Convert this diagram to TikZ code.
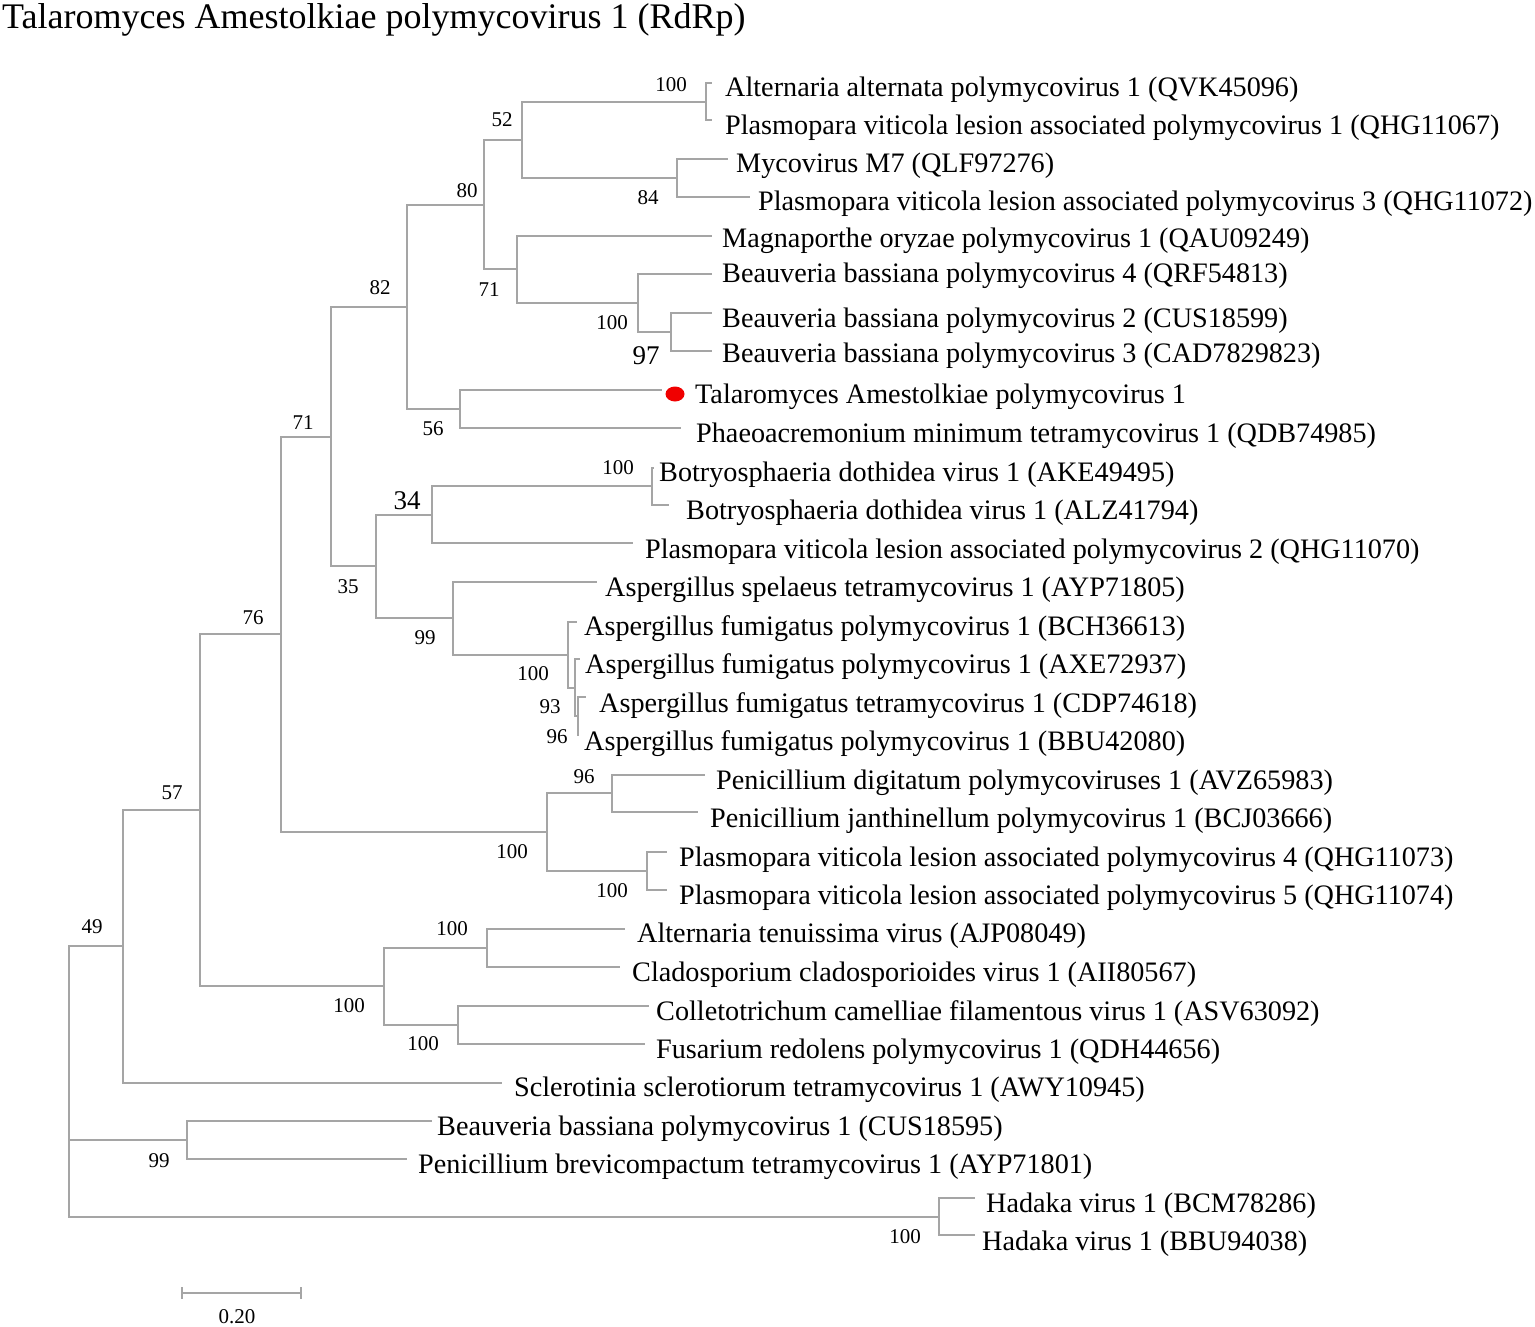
\documentclass[tikz,border=0pt]{standalone}
\usepackage{fontspec}
\setmainfont{Liberation Serif}
\usetikzlibrary{shapes.geometric}
\definecolor{brgray}{RGB}{165,165,165}
\definecolor{dotred}{RGB}{240,0,0}
\begin{document}
\begin{tikzpicture}[x=1pt,y=-1pt,
  branch/.style={draw=brgray,line width=1.6pt},
  leaflabel/.style={anchor=base west,inner sep=0pt,font=\fontsize{28.2}{32}\selectfont},
  bslabel/.style={anchor=center,inner sep=0pt,font=\fontsize{21}{24}\selectfont},
  bigbs/.style={anchor=center,inner sep=0pt,font=\fontsize{27}{30}\selectfont},
  titlestyle/.style={anchor=base west,inner sep=0pt,font=\fontsize{36}{40}\selectfont}]
\useasboundingbox (0,0) rectangle (1535,1327);

% title
\node[titlestyle] (title) at (2,29) {Talaromyces Amestolkiae polymycovirus 1 (RdRp)};

% internal nodes
\coordinate (nA) at (69,1081);
\coordinate (nB) at (123,946);
\coordinate (nC) at (200,810);
\coordinate (nD) at (281,634);
\coordinate (nE) at (331,437);
\coordinate (nF) at (407,307);
\coordinate (nG) at (484,205);
\coordinate (nH) at (522,140);
\coordinate (nI) at (706,102);
\coordinate (nJ) at (677,178);
\coordinate (nK) at (517,269);
\coordinate (nL) at (638,303);
\coordinate (nM) at (671,332);
\coordinate (nN) at (460,409);
\coordinate (nO) at (376,566);
\coordinate (nP) at (432,515);
\coordinate (nQ) at (652,486);
\coordinate (nR) at (453,618);
\coordinate (nS) at (568,655);
\coordinate (nT) at (575,688);
\coordinate (nU) at (578,716);
\coordinate (nV) at (547,832);
\coordinate (nW) at (612,793);
\coordinate (nX) at (647,871);
\coordinate (nY) at (384,986);
\coordinate (nZ) at (487,948);
\coordinate (nZZ) at (458,1025);
\coordinate (nBB) at (187,1140);
\coordinate (nHad) at (939,1217);

% leaf tips
\coordinate (l1) at (712,83);
\coordinate (l2) at (712,120);
\coordinate (l3) at (728,159);
\coordinate (l4) at (750,197);
\coordinate (l5) at (712,236);
\coordinate (l6) at (712,274);
\coordinate (l7) at (712,313);
\coordinate (l8) at (712,351);
\coordinate (l9) at (662,390);
\coordinate (l10) at (681,428);
\coordinate (l11) at (654,468);
\coordinate (l12) at (669,505);
\coordinate (l13) at (633,543);
\coordinate (l14) at (597,582);
\coordinate (l15) at (577,622);
\coordinate (l16) at (580,659);
\coordinate (l17) at (586,697);
\coordinate (l18) at (579,735);
\coordinate (l19) at (705,775);
\coordinate (l20) at (698,812);
\coordinate (l21) at (667,852);
\coordinate (l22) at (667,890);
\coordinate (l23) at (625,929);
\coordinate (l24) at (620,967);
\coordinate (l25) at (649,1006);
\coordinate (l26) at (645,1044);
\coordinate (l27) at (502,1083);
\coordinate (l28) at (432,1121);
\coordinate (l29) at (407,1159);
\coordinate (l30) at (975,1198);
\coordinate (l31) at (975,1235);

% branches
\foreach \p/\c in {nA/nB,nA/nBB,nA/nHad,nB/nC,nB/l27,nC/nD,nC/nY,nD/nE,nD/nV,
  nE/nF,nE/nO,nF/nG,nF/nN,nG/nH,nG/nK,nH/nI,nH/nJ,nI/l1,nI/l2,nJ/l3,nJ/l4,
  nK/l5,nK/nL,nL/l6,nL/nM,nM/l7,nM/l8,nN/l9,nN/l10,nO/nP,nO/nR,nP/nQ,nP/l13,
  nQ/l11,nQ/l12,nR/l14,nR/nS,nS/l15,nS/nT,nT/l16,nT/nU,nU/l17,nU/l18,
  nV/nW,nV/nX,nW/l19,nW/l20,nX/l21,nX/l22,nY/nZ,nY/nZZ,nZ/l23,nZ/l24,
  nZZ/l25,nZZ/l26,nBB/l28,nBB/l29,nHad/l30,nHad/l31}
  \draw[branch] (\p) |- (\c);

% red marker
\node[ellipse,fill=dotred,inner sep=0pt,minimum width=19pt,minimum height=15pt] (dot) at (675,394) {};

% leaf labels
\node[leaflabel] (t1) at (725,97) {Alternaria alternata polymycovirus 1 (QVK45096)};
\node[leaflabel] (t2) at (725,135) {Plasmopara viticola lesion associated polymycovirus 1 (QHG11067)};
\node[leaflabel] (t3) at (736,173) {Mycovirus M7 (QLF97276)};
\node[leaflabel] (t4) at (758,211) {Plasmopara viticola lesion associated polymycovirus 3 (QHG11072)};
\node[leaflabel] (t5) at (722,247) {Magnaporthe oryzae polymycovirus 1 (QAU09249)};
\node[leaflabel] (t6) at (722,282) {Beauveria bassiana polymycovirus 4 (QRF54813)};
\node[leaflabel] (t7) at (722,327) {Beauveria bassiana polymycovirus 2 (CUS18599)};
\node[leaflabel] (t8) at (722,362) {Beauveria bassiana polymycovirus 3 (CAD7829823)};
\node[leaflabel] (t9) at (695,403) {Talaromyces Amestolkiae polymycovirus 1};
\node[leaflabel] (t10) at (696,442) {Phaeoacremonium minimum tetramycovirus 1 (QDB74985)};
\node[leaflabel] (t11) at (659,481) {Botryosphaeria dothidea virus 1 (AKE49495)};
\node[leaflabel] (t12) at (686,519) {Botryosphaeria dothidea virus 1 (ALZ41794)};
\node[leaflabel] (t13) at (645,558) {Plasmopara viticola lesion associated polymycovirus 2 (QHG11070)};
\node[leaflabel] (t14) at (605,596) {Aspergillus spelaeus tetramycovirus 1 (AYP71805)};
\node[leaflabel] (t15) at (584,635) {Aspergillus fumigatus polymycovirus 1 (BCH36613)};
\node[leaflabel] (t16) at (585,673) {Aspergillus fumigatus polymycovirus 1 (AXE72937)};
\node[leaflabel] (t17) at (599,712) {Aspergillus fumigatus tetramycovirus 1 (CDP74618)};
\node[leaflabel] (t18) at (584,750) {Aspergillus fumigatus polymycovirus 1 (BBU42080)};
\node[leaflabel] (t19) at (716,789) {Penicillium digitatum polymycoviruses 1 (AVZ65983)};
\node[leaflabel] (t20) at (710,827) {Penicillium janthinellum polymycovirus 1 (BCJ03666)};
\node[leaflabel] (t21) at (679,866) {Plasmopara viticola lesion associated polymycovirus 4 (QHG11073)};
\node[leaflabel] (t22) at (679,904) {Plasmopara viticola lesion associated polymycovirus 5 (QHG11074)};
\node[leaflabel] (t23) at (637,942) {Alternaria tenuissima virus (AJP08049)};
\node[leaflabel] (t24) at (632,981) {Cladosporium cladosporioides virus 1 (AII80567)};
\node[leaflabel] (t25) at (656,1020) {Colletotrichum camelliae filamentous virus 1 (ASV63092)};
\node[leaflabel] (t26) at (656,1058) {Fusarium redolens polymycovirus 1 (QDH44656)};
\node[leaflabel] (t27) at (514,1096) {Sclerotinia sclerotiorum tetramycovirus 1 (AWY10945)};
\node[leaflabel] (t28) at (437,1135) {Beauveria bassiana polymycovirus 1 (CUS18595)};
\node[leaflabel] (t29) at (418,1173) {Penicillium brevicompactum tetramycovirus 1 (AYP71801)};
\node[leaflabel] (t30) at (986,1212) {Hadaka virus 1 (BCM78286)};
\node[leaflabel] (t31) at (982,1250) {Hadaka virus 1 (BBU94038)};

% bootstrap values
\node[bslabel] (b1) at (671,85) {100};
\node[bslabel] (b2) at (502,120) {52};
\node[bslabel] (b3) at (467,191) {80};
\node[bslabel] (b4) at (648,198) {84};
\node[bslabel] (b5) at (489,290) {71};
\node[bslabel] (b6) at (612,323) {100};
\node[bigbs] (b7) at (646,356) {97};
\node[bslabel] (b8) at (380,288) {82};
\node[bslabel] (b9) at (303,423) {71};
\node[bslabel] (b10) at (433,429) {56};
\node[bslabel] (b11) at (618,468) {100};
\node[bigbs] (b12) at (407,501) {34};
\node[bslabel] (b13) at (348,587) {35};
\node[bslabel] (b14) at (425,638) {99};
\node[bslabel] (b15) at (533,674) {100};
\node[bslabel] (b16) at (550,707) {93};
\node[bslabel] (b17) at (557,737) {96};
\node[bslabel] (b18) at (253,618) {76};
\node[bslabel] (b19) at (584,777) {96};
\node[bslabel] (b20) at (172,793) {57};
\node[bslabel] (b21) at (512,852) {100};
\node[bslabel] (b22) at (612,891) {100};
\node[bslabel] (b23) at (92,927) {49};
\node[bslabel] (b24) at (452,929) {100};
\node[bslabel] (b25) at (349,1006) {100};
\node[bslabel] (b26) at (423,1044) {100};
\node[bslabel] (b27) at (159,1161) {99};
\node[bslabel] (b28) at (905,1237) {100};

% scale bar
\coordinate (sb1) at (182,1293);
\coordinate (sb2) at (301,1293);
\draw[branch] (sb1) -- (sb2);
\draw[branch] ([yshift=6pt]sb1) -- ([yshift=-6pt]sb1);
\draw[branch] ([yshift=6pt]sb2) -- ([yshift=-6pt]sb2);
\node[bslabel] (sblabel) at (237,1317) {0.20};
\end{tikzpicture}
\end{document}
